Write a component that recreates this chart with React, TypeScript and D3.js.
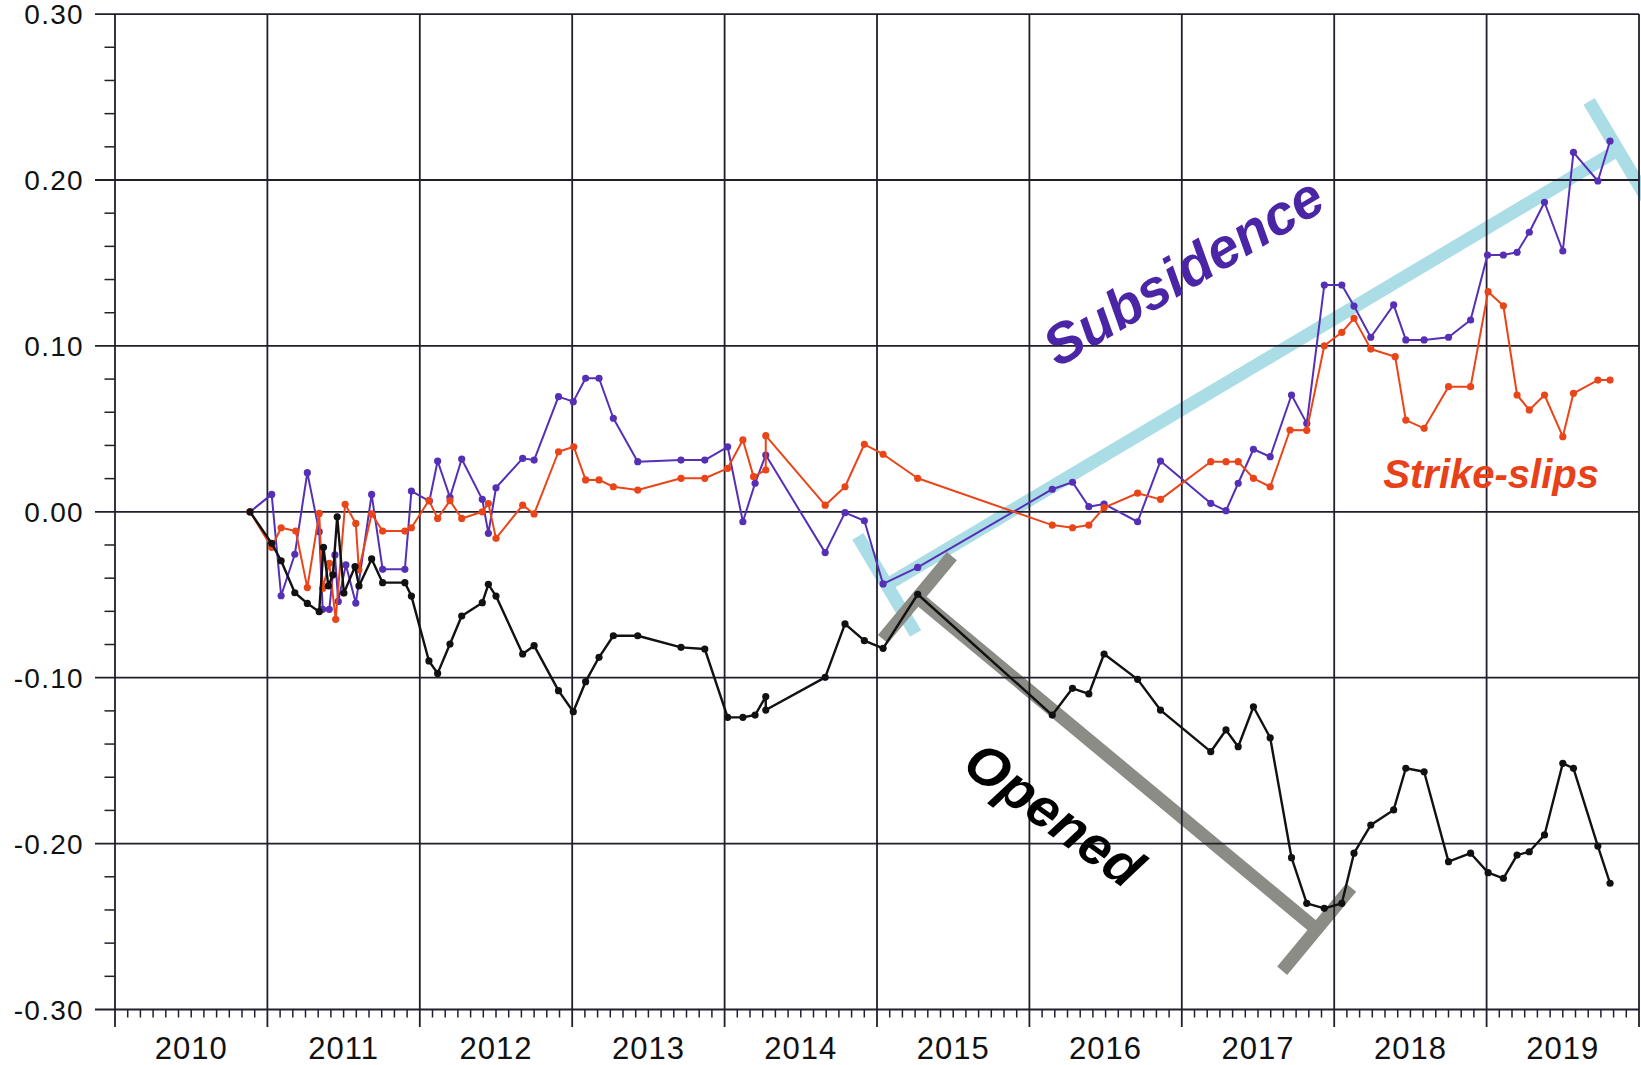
import React from 'react';
import * as d3 from 'd3';

const WIDTH = 1641;
const HEIGHT = 1065;

const yearLabels = ['2010', '2011', '2012', '2013', '2014', '2015', '2016', '2017', '2018', '2019'];
const yTickValues = [0.3, 0.2, 0.1, 0.0, -0.1, -0.2, -0.3];
const yTickLabels = ['0.30', '0.20', '0.10', '0.00', '-0.10', '-0.20', '-0.30'];

// [decimal year, value]
const subsidence: [number, number][] = [
  [2010.886, 0], [2011.028, 0.0105], [2011.09, -0.0506], [2011.18, -0.0256], [2011.262, 0.0236],
  [2011.34, -0.012], [2011.363, -0.0588], [2011.406, -0.0588], [2011.443, -0.026], [2011.465, -0.054],
  [2011.515, -0.032], [2011.58, -0.055], [2011.684, 0.0105], [2011.756, -0.0347], [2011.902, -0.0347],
  [2011.945, 0.0125], [2012.063, 0.0065], [2012.117, 0.0306], [2012.198, 0.0087], [2012.275, 0.0318],
  [2012.41, 0.0075], [2012.45, -0.013], [2012.5, 0.0145], [2012.675, 0.0322], [2012.75, 0.0312],
  [2012.91, 0.0694], [2013.007, 0.0664], [2013.088, 0.0805], [2013.176, 0.0805], [2013.27, 0.0564],
  [2013.43, 0.0302], [2013.714, 0.0312], [2013.87, 0.0312], [2014.02, 0.0392], [2014.12, -0.006],
  [2014.2, 0.0172], [2014.27, 0.0342], [2014.66, -0.0246], [2014.79, -0.0005], [2014.917, -0.0054],
  [2015.04, -0.0435], [2015.267, -0.0335], [2016.15, 0.0136], [2016.283, 0.0178], [2016.39, 0.0031],
  [2016.49, 0.0047], [2016.71, -0.006], [2016.86, 0.0306], [2017.19, 0.0051], [2017.29, 0.0007],
  [2017.37, 0.0172], [2017.47, 0.0377], [2017.58, 0.0332], [2017.72, 0.0704], [2017.82, 0.0533],
  [2017.935, 0.1367], [2018.05, 0.1367], [2018.13, 0.124], [2018.24, 0.1052], [2018.39, 0.1247],
  [2018.47, 0.1036], [2018.59, 0.1036], [2018.75, 0.1052], [2018.895, 0.1156], [2019.006, 0.1548],
  [2019.11, 0.1548], [2019.2, 0.1564], [2019.28, 0.1685], [2019.38, 0.1866], [2019.5, 0.1572],
  [2019.57, 0.2167], [2019.73, 0.1994], [2019.81, 0.2235],
];

const strikeSlips: [number, number][] = [
  [2010.886, 0], [2011.028, -0.0214], [2011.09, -0.0096], [2011.186, -0.0116], [2011.262, -0.0457],
  [2011.34, -0.001], [2011.363, -0.0461], [2011.406, -0.031], [2011.448, -0.0648], [2011.51, 0.0045],
  [2011.58, -0.007], [2011.6, -0.035], [2011.684, -0.0013], [2011.756, -0.0116], [2011.902, -0.0116],
  [2011.945, -0.0096], [2012.06, 0.0069], [2012.117, -0.004], [2012.198, 0.0067], [2012.275, -0.004],
  [2012.41, 0.0], [2012.45, 0.005], [2012.5, -0.016], [2012.675, 0.004], [2012.75, -0.0013],
  [2012.91, 0.0362], [2013.01, 0.0392], [2013.088, 0.0192], [2013.176, 0.0192], [2013.27, 0.0151],
  [2013.43, 0.0131], [2013.714, 0.0202], [2013.87, 0.0202], [2014.02, 0.0262], [2014.12, 0.0433],
  [2014.19, 0.0212], [2014.27, 0.0252], [2014.27, 0.0459], [2014.66, 0.004], [2014.79, 0.0151],
  [2014.917, 0.0407], [2015.04, 0.0347], [2015.267, 0.0202], [2016.15, -0.008], [2016.283, -0.0096],
  [2016.39, -0.008], [2016.49, 0.0025], [2016.71, 0.0112], [2016.86, 0.0075], [2017.19, 0.0302],
  [2017.29, 0.0302], [2017.37, 0.0302], [2017.47, 0.0202], [2017.58, 0.0151], [2017.71, 0.0493],
  [2017.82, 0.0491], [2017.935, 0.1001], [2018.05, 0.1082], [2018.13, 0.1166], [2018.24, 0.0981],
  [2018.4, 0.0935], [2018.47, 0.0553], [2018.59, 0.0503], [2018.75, 0.0754], [2018.895, 0.0754],
  [2019.01, 0.1327], [2019.11, 0.1242], [2019.2, 0.0704], [2019.28, 0.0614], [2019.38, 0.0704],
  [2019.5, 0.0453], [2019.57, 0.0714], [2019.73, 0.0794], [2019.81, 0.0794],
];

const opened: [number, number][] = [
  [2010.886, 0], [2011.028, -0.019], [2011.09, -0.0295], [2011.18, -0.0488], [2011.262, -0.0552],
  [2011.34, -0.0602], [2011.368, -0.0214], [2011.4, -0.0447], [2011.43, -0.038], [2011.458, -0.003],
  [2011.502, -0.049], [2011.575, -0.033], [2011.601, -0.0447], [2011.684, -0.0284], [2011.756, -0.0427],
  [2011.902, -0.0427], [2011.945, -0.0508], [2012.06, -0.0899], [2012.117, -0.0974], [2012.198, -0.0797],
  [2012.275, -0.0628], [2012.41, -0.0548], [2012.45, -0.0437], [2012.5, -0.0508], [2012.675, -0.0857],
  [2012.75, -0.0807], [2012.91, -0.1078], [2013.007, -0.1205], [2013.088, -0.1024], [2013.176, -0.0877],
  [2013.27, -0.0747], [2013.43, -0.0747], [2013.714, -0.0817], [2013.87, -0.0827], [2014.02, -0.1239],
  [2014.12, -0.1239], [2014.2, -0.1225], [2014.27, -0.1114], [2014.27, -0.1195], [2014.66, -0.0998],
  [2014.79, -0.0676], [2014.917, -0.0777], [2015.04, -0.0823], [2015.267, -0.0497], [2016.15, -0.1225],
  [2016.283, -0.1064], [2016.39, -0.1098], [2016.49, -0.0857], [2016.71, -0.101], [2016.86, -0.1195],
  [2017.19, -0.1446], [2017.29, -0.1315], [2017.37, -0.1416], [2017.47, -0.1175], [2017.58, -0.1362],
  [2017.72, -0.2085], [2017.82, -0.236], [2017.935, -0.239], [2018.05, -0.236], [2018.13, -0.2058],
  [2018.24, -0.1888], [2018.39, -0.1797], [2018.47, -0.1546], [2018.59, -0.1567], [2018.75, -0.2109],
  [2018.895, -0.2058], [2019.01, -0.2175], [2019.11, -0.2209], [2019.2, -0.2069], [2019.28, -0.2049],
  [2019.38, -0.1948], [2019.5, -0.1516], [2019.57, -0.1546], [2019.73, -0.2015], [2019.81, -0.2239],
];

// annotation trend brackets (start, end) in data units
const subsidenceTrend: [number, number][] = [[2015.064, -0.0441], [2019.862, 0.2181]];
const openedTrend: [number, number][] = [[2015.265, -0.0517], [2017.885, -0.2516]];

// annotation label anchors
const subsidenceLabel: [number, number] = [2017.006, 0.1454];
const openedLabel: [number, number] = [2016.165, -0.182];
const strikeSlipLabel: [number, number] = [2019.03, 0.0143];

const PURPLE = '#5530b6';
const RED = '#ea4519';
const BLACK = '#111111';
const GRID = '#221e2c';
const CYAN = '#abdde7';
const GREY = '#8c8c86';
const FONT = "'Liberation Sans', Arial, Helvetica, sans-serif";

export default function App() {
  const x = d3.scaleLinear().domain([2010, 2020]).range([115, 1639]);
  const y = d3.scaleLinear().domain([-0.3, 0.3]).range([1009.5, 14.1]);

  const line = d3
    .line<[number, number]>()
    .x((d) => x(d[0]))
    .y((d) => y(d[1]));

  const years = d3.range(2010, 2021);
  const monthTicks: number[] = [];
  for (let yr = 2010; yr < 2020; yr++) for (let m = 1; m < 12; m++) monthTicks.push(yr + m / 12);
  const minorY = d3.range(-0.28, 0.3, 0.02).filter((v) => Math.abs(Math.round(v * 50) % 5) !== 0);

  const bracket = (pts: [number, number][], cap: number) => {
    const p0 = [x(pts[0][0]), y(pts[0][1])];
    const p1 = [x(pts[1][0]), y(pts[1][1])];
    const dx = p1[0] - p0[0];
    const dy = p1[1] - p0[1];
    const len = Math.hypot(dx, dy);
    const nx = -dy / len;
    const ny = dx / len;
    const h = cap / 2;
    return [
      `M${p0[0]},${p0[1]}L${p1[0]},${p1[1]}`,
      `M${p0[0] - nx * h},${p0[1] - ny * h}L${p0[0] + nx * h},${p0[1] + ny * h}`,
      `M${p1[0] - nx * h},${p1[1] - ny * h}L${p1[0] + nx * h},${p1[1] + ny * h}`,
    ].join('');
  };

  const series = [
    { data: subsidence, color: PURPLE, width: 2, r: 3.6 },
    { data: strikeSlips, color: RED, width: 2, r: 3.6 },
    { data: opened, color: BLACK, width: 2.4, r: 3.6 },
  ];

  return (
    <svg
      width={WIDTH}
      height={HEIGHT}
      style={{ position: 'absolute', left: 0, top: 0, background: '#fff' }}
      fontFamily={FONT}
    >
      <rect x={0} y={0} width={WIDTH} height={HEIGHT} fill="#fff" />

      {/* annotation brackets (under grid) */}
      <path d={bracket(subsidenceTrend, 113)} stroke={CYAN} strokeWidth={13} fill="none" />
      <path d={bracket(openedTrend, 108)} stroke={GREY} strokeWidth={13} fill="none" />

      {/* horizontal grid + y ticks */}
      {yTickValues.map((v) => (
        <line key={'h' + v} x1={95} x2={1639} y1={y(v)} y2={y(v)} stroke={GRID} strokeWidth={1.8} />
      ))}
      {minorY.map((v) => (
        <line key={'my' + v} x1={104.5} x2={115} y1={y(v)} y2={y(v)} stroke={GRID} strokeWidth={1.5} />
      ))}
      {yTickValues.map((v, i) => (
        <text key={'yl' + v} x={84} y={y(v)} dy="0.36em" textAnchor="end" fontSize={28} letterSpacing={1.3} fill="#111">
          {yTickLabels[i]}
        </text>
      ))}

      {/* vertical grid + x ticks */}
      {years.map((yr) => (
        <line key={'v' + yr} x1={x(yr)} x2={x(yr)} y1={y(0.3)} y2={1027} stroke={GRID} strokeWidth={1.8} />
      ))}
      {monthTicks.map((t) => (
        <line key={'mt' + t} x1={x(t)} x2={x(t)} y1={y(-0.3)} y2={1017.5} stroke={GRID} strokeWidth={1.5} />
      ))}
      {yearLabels.map((lab, i) => (
        <text key={'xl' + lab} x={x(2010 + i + 0.5)} y={1059} textAnchor="middle" fontSize={31} letterSpacing={1} fill="#111">
          {lab}
        </text>
      ))}

      {/* data series */}
      {series.map((s, i) => (
        <g key={'s' + i}>
          <path d={line(s.data) || ''} fill="none" stroke={s.color} strokeWidth={s.width} strokeLinejoin="round" />
          {s.data.map((d, j) => (
            <circle key={j} cx={x(d[0])} cy={y(d[1])} r={s.r} fill={s.color} />
          ))}
        </g>
      ))}

      {/* labels */}
      <text
        transform={`translate(${x(subsidenceLabel[0])},${y(subsidenceLabel[1])}) rotate(-30.6)`}
        dy="0.36em"
        textAnchor="middle"
        fontSize={56}
        fontWeight="bold"
        fontStyle="italic"
        fill="#4a26a6"
      >
        Subsidence
      </text>
      <text
        transform={`translate(${x(openedLabel[0])},${y(openedLabel[1])}) rotate(36)`}
        dy="0.36em"
        textAnchor="middle"
        fontSize={55}
        fontWeight="bold"
        fontStyle="italic"
        fill="#000"
      >
        Opened
      </text>
      <text
        x={x(strikeSlipLabel[0])}
        y={y(strikeSlipLabel[1])}
        textAnchor="middle"
        fontSize={40}
        fontWeight="bold"
        fontStyle="italic"
        fill="#e8411a"
      >
        Strike-slips
      </text>
    </svg>
  );
}
